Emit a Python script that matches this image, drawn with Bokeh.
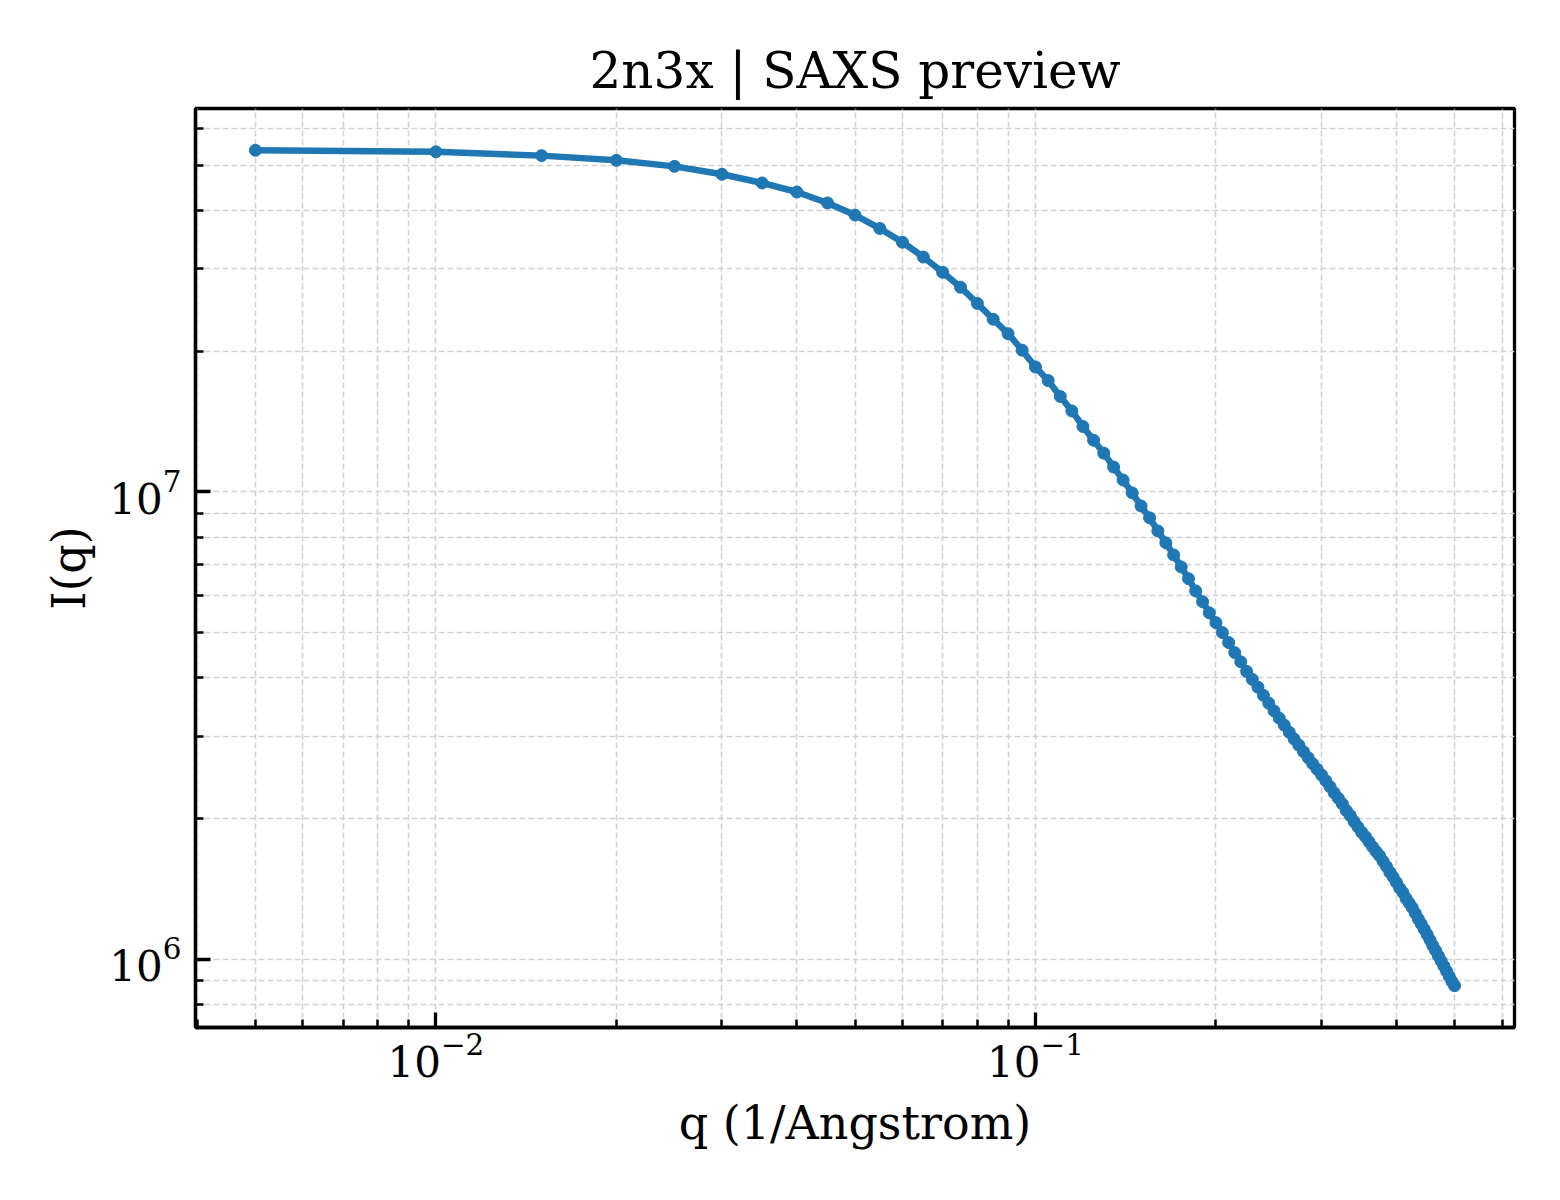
import math
from bokeh.plotting import figure
from bokeh.models import Range1d, FixedTicker, LogTickFormatter
from bokeh.embed import file_html
from bokeh.resources import INLINE

# q grid of the SAXS preview (1/Angstrom)
q = [0.005, 0.010, 0.015, 0.020, 0.025, 0.030, 0.035, 0.040, 0.045, 0.050,
     0.055, 0.060, 0.065, 0.070, 0.075, 0.080, 0.085, 0.090, 0.095, 0.100,
     0.105, 0.110, 0.115, 0.120, 0.125, 0.130, 0.135, 0.140, 0.145, 0.150,
     0.155, 0.160, 0.165, 0.170, 0.175, 0.180, 0.185, 0.190, 0.195, 0.200,
     0.205, 0.210, 0.215, 0.220, 0.225, 0.230, 0.235, 0.240, 0.245, 0.250,
     0.255, 0.260, 0.265, 0.270, 0.275, 0.280, 0.285, 0.290, 0.295, 0.300,
     0.305, 0.310, 0.315, 0.320, 0.325, 0.330, 0.335, 0.340, 0.345, 0.350,
     0.355, 0.360, 0.365, 0.370, 0.375, 0.380, 0.385, 0.390, 0.395, 0.400,
     0.405, 0.410, 0.415, 0.420, 0.425, 0.430, 0.435, 0.440, 0.445, 0.450,
     0.455, 0.460, 0.465, 0.470, 0.475, 0.480, 0.485, 0.490, 0.495, 0.500]

# I(q)
intensity = [5.38e7, 5.34e7, 5.24e7, 5.12e7, 4.97e7, 4.78e7, 4.58e7, 4.38e7, 4.15e7, 3.91e7,
             3.66e7, 3.42e7, 3.18e7, 2.95e7, 2.74e7, 2.53e7, 2.34e7, 2.18e7, 2.01e7, 1.85e7,
             1.73e7, 1.60e7, 1.49e7, 1.38e7, 1.29e7, 1.21e7, 1.13e7, 1.06e7, 9.95e6, 9.33e6,
             8.80e6, 8.25e6, 7.78e6, 7.33e6, 6.91e6, 6.52e6, 6.14e6, 5.82e6, 5.51e6, 5.25e6,
             5.00e6, 4.76e6, 4.53e6, 4.33e6, 4.13e6, 3.97e6, 3.82e6, 3.67e6, 3.53e6, 3.40e6,
             3.28e6, 3.17e6, 3.06e6, 2.96e6, 2.87e6, 2.78e6, 2.70e6, 2.62e6, 2.55e6, 2.48e6,
             2.41e6, 2.34e6, 2.27e6, 2.21e6, 2.15e6, 2.08e6, 2.03e6, 1.97e6, 1.92e6, 1.87e6,
             1.83e6, 1.785e6, 1.74e6, 1.70e6, 1.665e6, 1.62e6, 1.58e6, 1.535e6, 1.50e6, 1.46e6,
             1.42e6, 1.39e6, 1.35e6, 1.32e6, 1.29e6, 1.255e6, 1.22e6, 1.19e6, 1.16e6, 1.13e6,
             1.10e6, 1.07e6, 1.044e6, 1.017e6, 9.92e5, 9.67e5, 9.43e5, 9.19e5, 8.96e5, 8.78e5]

# ticks
x_major = [0.01, 0.1]
x_minor = [0.004, 0.005, 0.006, 0.007, 0.008, 0.009,
           0.02, 0.03, 0.04, 0.05, 0.06, 0.07, 0.08, 0.09,
           0.2, 0.3, 0.4, 0.5, 0.6]
y_major = [1e6, 1e7]
y_minor = [8e5, 9e5, 2e6, 3e6, 4e6, 5e6, 6e6, 7e6, 8e6, 9e6,
           2e7, 3e7, 4e7, 5e7, 6e7, 7e7]

FONT = "DejaVu Serif"
BLUE = "#1f77b4"


def log_range(vals, frac=0.05):
    lo, hi = math.log10(min(vals)), math.log10(max(vals))
    pad = (hi - lo) * frac
    return Range1d(10 ** (lo - pad), 10 ** (hi + pad))


p = figure(width=1544, height=1184,
           x_axis_type="log", y_axis_type="log",
           x_range=log_range(q), y_range=log_range(intensity),
           title="2n3x | SAXS preview",
           x_axis_label="q (1/Angstrom)", y_axis_label="I(q)",
           output_backend="svg", toolbar_location=None,
           min_border_left=195, min_border_right=30,
           min_border_top=108, min_border_bottom=157)

p.line(q, intensity, line_color=BLUE, line_width=6.5)
p.scatter(q, intensity, size=12, fill_color=BLUE, line_color=BLUE)

p.title.align = "center"
p.title.text_font = FONT
p.title.text_font_size = "50px"
p.title.text_font_style = "normal"
p.title.text_color = "black"
p.title.standoff = 17

p.outline_line_color = "black"
p.outline_line_width = 3.3
p.outline_line_alpha = 1.0

p.xaxis.ticker = FixedTicker(ticks=x_major, minor_ticks=x_minor)
p.yaxis.ticker = FixedTicker(ticks=y_major, minor_ticks=y_minor)

for ax in (p.xaxis[0], p.yaxis[0]):
    ax.formatter = LogTickFormatter()
    ax.axis_line_width = 3.3
    ax.axis_line_color = "black"
    ax.major_tick_in = 15
    ax.major_tick_out = 0
    ax.minor_tick_in = 8
    ax.minor_tick_out = 0
    ax.major_tick_line_width = 3.3
    ax.minor_tick_line_width = 2.5
    ax.major_tick_line_color = "black"
    ax.minor_tick_line_color = "black"
    ax.major_label_text_font = FONT
    ax.major_label_text_font_size = "42px"
    ax.major_label_text_color = "black"
    ax.axis_label_text_font = FONT
    ax.axis_label_text_font_size = "46px"
    ax.axis_label_text_font_style = "normal"
    ax.axis_label_text_color = "black"

p.xaxis.major_label_standoff = 5
p.yaxis.major_label_standoff = 14
p.xaxis.axis_label_standoff = 16
p.yaxis.axis_label_standoff = 10

for g in (p.xgrid[0], p.ygrid[0]):
    g.grid_line_color = "#d3d3d3"
    g.grid_line_width = 1.6
    g.grid_line_dash = "6 3"
    g.minor_grid_line_color = "#d3d3d3"
    g.minor_grid_line_width = 1.6
    g.minor_grid_line_dash = "6 3"

open("out.html", "w").write(file_html(p, INLINE))
